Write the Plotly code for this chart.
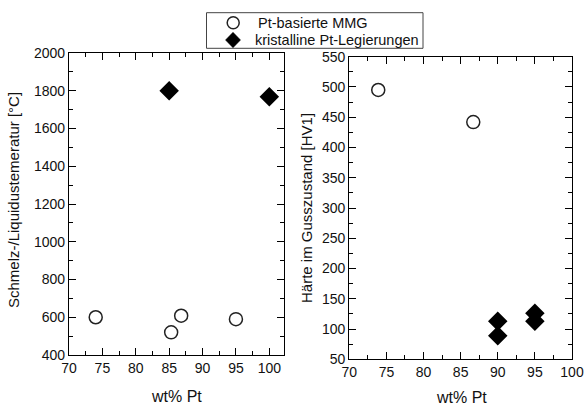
import plotly.graph_objects as go

# Left panel: melting / liquidus temperature
mmg_x_T = [74, 85.3, 86.8, 95]
mmg_T = [600, 520, 608, 590]
kr_x_T = [85, 100]
kr_T = [1800, 1768]

# Right panel: hardness as cast
mmg_x_H = [73.9, 86.7]
mmg_H = [495, 442]
kr_x_H = [90, 90, 95, 95]
kr_H = [113, 89, 126, 113]

legend_labels = ["Pt-basierte MMG", "kristalline Pt-Legierungen"]

W, H = 584, 405
FONT = "Liberation Sans, Arial, sans-serif"
TXT = "#111111"

def px(x):  # page x pixel -> paper fraction
    return x / W

def py(y):  # page y pixel -> paper fraction
    return 1 - y / H

fig = go.Figure()

circ = dict(symbol="circle-open", size=13, color="#222", line=dict(width=1.5, color="#222"))
diam = dict(symbol="diamond", size=15, color="black")

fig.add_trace(go.Scatter(x=mmg_x_T, y=mmg_T, mode="markers", marker=circ,
                         name=legend_labels[0], xaxis="x", yaxis="y", showlegend=False))
fig.add_trace(go.Scatter(x=kr_x_T, y=kr_T, mode="markers", marker=diam,
                         name=legend_labels[1], xaxis="x", yaxis="y", showlegend=False))
fig.add_trace(go.Scatter(x=mmg_x_H, y=mmg_H, mode="markers", marker=circ,
                         name=legend_labels[0], showlegend=False, xaxis="x2", yaxis="y2"))
fig.add_trace(go.Scatter(x=kr_x_H, y=kr_H, mode="markers", marker=diam,
                         name=legend_labels[1], showlegend=False, xaxis="x2", yaxis="y2"))

def ax(rng, dtick, mdt, domain, anchor):
    return dict(range=rng, dtick=dtick, tick0=0, domain=domain, anchor=anchor,
                automargin=False, ticklabeloverflow="allow",
                showline=True, linecolor="black", linewidth=1.3, mirror="ticks",
                ticks="inside", ticklen=7, tickwidth=1.2, tickcolor="black",
                showgrid=False, zeroline=False,
                minor=dict(ticks="inside", ticklen=4, tickwidth=1.2, dtick=mdt,
                           tickcolor="black", showgrid=False),
                tickfont=dict(family=FONT, size=14, color=TXT))

fig.update_layout(
    width=W, height=H, margin=dict(l=0, r=0, t=0, b=0, autoexpand=False),
    paper_bgcolor="white", plot_bgcolor="white",
    xaxis=ax([70, 102.2], 5, 2.5, [px(69), px(284)], "y"),
    yaxis=ax([400, 2000], 200, 100, [py(355), py(53)], "x"),
    xaxis2=ax([70, 100], 5, 2.5, [px(349.3), px(572)], "y2"),
    yaxis2=ax([50, 550], 50, 25, [py(359.3), py(56.7)], "x2"),
    showlegend=False,
)

# Legend drawn as a framed box with symbols and labels
shapes = [
    dict(type="rect", xref="paper", yref="paper", x0=px(206.5), x1=px(423), y0=py(48.3), y1=py(12.7),
         line=dict(color="#444", width=1), fillcolor="white", layer="above"),
    dict(type="circle", xref="paper", yref="paper", x0=px(227.2), x1=px(239.2), y0=py(28.7), y1=py(16.7),
         line=dict(color="#222", width=1.5), layer="above"),
    dict(type="path", xref="paper", yref="paper",
         path=f"M {px(233)},{py(32.3)} L {px(240.5)},{py(40)} L {px(233)},{py(47.7)} L {px(225.5)},{py(40)} Z",
         line=dict(color="black", width=0.5), fillcolor="black", layer="above"),
]
for s in shapes:
    fig.add_shape(**s)

fig.add_annotation(text=legend_labels[0], x=px(256), y=py(22.5), xref="paper", yref="paper",
                   xanchor="left", yanchor="middle", showarrow=False,
                   font=dict(family=FONT, size=14.5, color=TXT))
fig.add_annotation(text=legend_labels[1], x=px(252.5), y=py(39.5), xref="paper", yref="paper",
                   xanchor="left", yanchor="middle", showarrow=False,
                   font=dict(family=FONT, size=14.5, color=TXT))

ann = [
    dict(text="wt% Pt", x=px(176), y=py(396), size=16, angle=0),
    dict(text="wt% Pt", x=px(461), y=py(397), size=16, angle=0),
    dict(text="Schmelz-/Liquidustemeratur [°C]", x=px(13), y=py(200), size=15, angle=-90),
    dict(text="Härte im Gusszustand [HV1]", x=px(306), y=py(208), size=15, angle=-90),
]
for a in ann:
    fig.add_annotation(text=a["text"], x=a["x"], y=a["y"], xref="paper", yref="paper",
                       xanchor="center", yanchor="middle", showarrow=False,
                       textangle=a["angle"], font=dict(family=FONT, size=a["size"], color=TXT))

fig.write_html("out.html", config={"displayModeBar": False},
               post_script="document.body.style.margin='0';document.body.style.overflow='hidden';")
